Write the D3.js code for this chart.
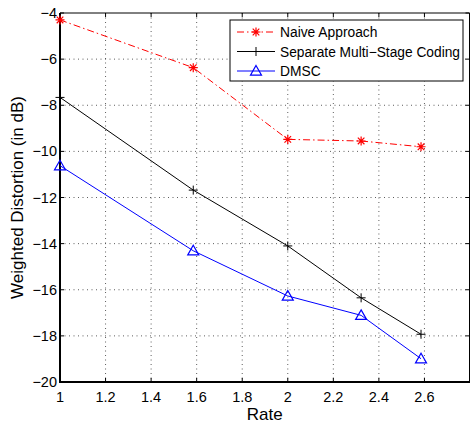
<!DOCTYPE html>
<html>
<head>
<meta charset="utf-8">
<script src="https://cdn.jsdelivr.net/npm/d3@7"></script>
<style>
  html, body { margin: 0; padding: 0; background: #fff; }
  svg { display: block; font-family: "Liberation Sans", Arial, Helvetica, sans-serif; }
</style>
</head>
<body>
<svg id="chart" width="470" height="423"></svg>
<script>
// valores
const rates = [1, 1.585, 2, 2.322, 2.585];
const naive = [-4.3, -6.37, -9.48, -9.55, -9.8];
const separate = [-7.66, -11.68, -14.1, -16.35, -17.93];
const dmsc = [-10.62, -14.31, -16.27, -17.11, -18.99];
const xTicks = [1, 1.2, 1.4, 1.6, 1.8, 2, 2.2, 2.4, 2.6, 2.8];
const xLabels = ['1', '1.2', '1.4', '1.6', '1.8', '2', '2.2', '2.4', '2.6', ''];
const yTicks = [-4, -6, -8, -10, -12, -14, -16, -18, -20];
const seriesNames = ['Naive Approach', 'Separate Multi\u2212Stage Coding', 'DMSC'];

const svg = d3.select('#chart');
const L = 60, T = 13, R = 469.5, B = 382;

const x = d3.scaleLinear().domain([1, 2.8]).range([L, R + 0.5]);
const y = d3.scaleLinear().domain([-20, -4]).range([B, T]);

const fmt = v => String(v).replace('-', '\u2212');

// grilla punteada
const grid = svg.append('g');
xTicks.slice(1, -1).forEach(t => {
  grid.append('line').attr('x1', x(t)).attr('x2', x(t)).attr('y1', T).attr('y2', B)
    .attr('stroke', '#333').attr('stroke-width', 0.8).attr('stroke-dasharray', '1,3.5');
});
yTicks.slice(1, -1).forEach(t => {
  grid.append('line').attr('x1', L).attr('x2', R).attr('y1', y(t)).attr('y2', y(t))
    .attr('stroke', '#333').attr('stroke-width', 0.8).attr('stroke-dasharray', '1,3.5');
});

// ejes con ticks hacia adentro
const axes = svg.append('g');
axes.append('line').attr('x1', L).attr('x2', R).attr('y1', T).attr('y2', T).attr('stroke', '#000').attr('stroke-width', 1);
axes.append('line').attr('x1', R).attr('x2', R).attr('y1', T).attr('y2', B).attr('stroke', '#000').attr('stroke-width', 1);
axes.append('line').attr('x1', L).attr('x2', R + 1).attr('y1', B).attr('y2', B).attr('stroke', '#000').attr('stroke-width', 2);
axes.append('line').attr('x1', L).attr('x2', L).attr('y1', T).attr('y2', B + 1).attr('stroke', '#000').attr('stroke-width', 2);

xTicks.forEach((t, i) => {
  axes.append('line').attr('x1', x(t)).attr('x2', x(t)).attr('y1', B).attr('y2', B - 4).attr('stroke', '#000');
  axes.append('line').attr('x1', x(t)).attr('x2', x(t)).attr('y1', T).attr('y2', T + 4).attr('stroke', '#000');
  axes.append('text').attr('x', x(t)).attr('y', B + 20).attr('text-anchor', 'middle')
    .attr('font-size', 14.5).attr('fill', '#000').text(xLabels[i]);
});
yTicks.forEach(t => {
  axes.append('line').attr('x1', L).attr('x2', L + 4).attr('y1', y(t)).attr('y2', y(t)).attr('stroke', '#000');
  axes.append('line').attr('x1', R).attr('x2', R - 4).attr('y1', y(t)).attr('y2', y(t)).attr('stroke', '#000');
  axes.append('text').attr('x', L - 3).attr('y', y(t) + 5).attr('text-anchor', 'end')
    .attr('font-size', 14.5).attr('fill', '#000').text(fmt(t));
});

svg.append('text').attr('x', (L + R) / 2).attr('y', 420).attr('text-anchor', 'middle')
  .attr('font-size', 17).text('Rate');
svg.append('text').attr('transform', `translate(23,${(T + B) / 2}) rotate(-90)`)
  .attr('text-anchor', 'middle').attr('font-size', 17).text('Weighted Distortion (in dB)');

// marcadores
function marker(g, type, cx, cy, color) {
  if (type === 'star') {
    const s = 4.5, d = 3.3;
    g.append('path').attr('d', `M${cx - s},${cy}H${cx + s}M${cx},${cy - s}V${cy + s}M${cx - d},${cy - d}L${cx + d},${cy + d}M${cx - d},${cy + d}L${cx + d},${cy - d}`)
      .attr('stroke', color).attr('stroke-width', 1.2).attr('fill', 'none');
  } else if (type === 'plus') {
    const s = 4.5;
    g.append('path').attr('d', `M${cx - s},${cy}H${cx + s}M${cx},${cy - s}V${cy + s}`)
      .attr('stroke', color).attr('stroke-width', 1).attr('fill', 'none');
  } else {
    const s = 5.5;
    g.append('path').attr('d', `M${cx},${cy - s}L${cx + s},${cy + s * 0.75}L${cx - s},${cy + s * 0.75}Z`)
      .attr('stroke', color).attr('stroke-width', 1.2).attr('fill', 'none');
  }
}

const series = [
  { vals: naive, color: '#ff0000', dash: '7,3,1.5,3', mk: 'star' },
  { vals: separate, color: '#000000', dash: null, mk: 'plus' },
  { vals: dmsc, color: '#0000ff', dash: null, mk: 'tri' }
];

const line = d3.line().x(d => x(d[0])).y(d => y(d[1]));
const plot = svg.append('g');
series.forEach(s => {
  const pts = rates.map((r, i) => [r, s.vals[i]]);
  plot.append('path').attr('d', line(pts)).attr('fill', 'none')
    .attr('stroke', s.color).attr('stroke-width', 1)
    .attr('stroke-dasharray', s.dash);
  pts.forEach(p => marker(plot, s.mk, x(p[0]), y(p[1]), s.color));
});

// leyenda
const lg = svg.append('g');
lg.append('rect').attr('x', 230).attr('y', 20).attr('width', 233).attr('height', 61)
  .attr('fill', '#fff').attr('stroke', '#000').attr('stroke-width', 1);
series.forEach((s, i) => {
  const cy = 32 + i * 19.5;
  lg.append('line').attr('x1', 237).attr('x2', 275).attr('y1', cy).attr('y2', cy)
    .attr('stroke', s.color).attr('stroke-dasharray', s.dash);
  marker(lg, s.mk, 256, cy, s.color);
  lg.append('text').attr('x', 280).attr('y', cy + 5).attr('font-size', 13.8)
    .attr('textLength', i === 1 ? 180 : null).attr('lengthAdjust', 'spacingAndGlyphs')
    .text(seriesNames[i]);
});
</script>
</body>
</html>
